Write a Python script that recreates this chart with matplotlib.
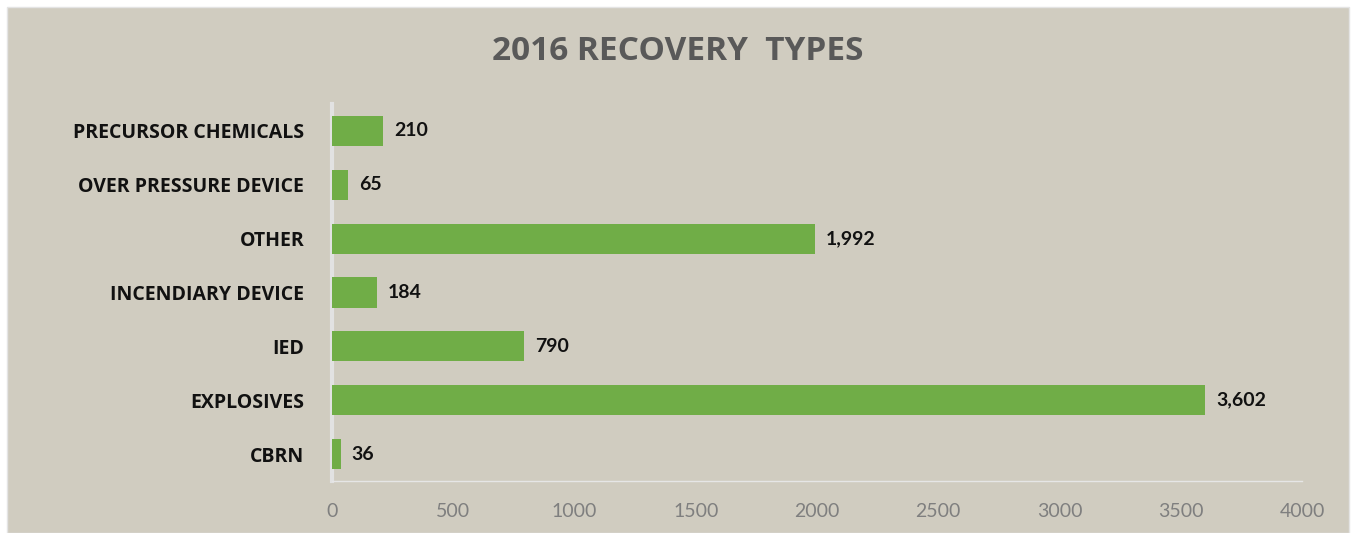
import matplotlib
matplotlib.use("Agg")
import matplotlib.pyplot as plt
from matplotlib.patches import Rectangle

categories = ["CBRN", "EXPLOSIVES", "IED", "INCENDIARY DEVICE", "OTHER",
              "OVER PRESSURE DEVICE", "PRECURSOR CHEMICALS"]
values = [36, 3602, 790, 184, 1992, 65, 210]
xticks = [0, 500, 1000, 1500, 2000, 2500, 3000, 3500, 4000]
title = "2016 RECOVERY  TYPES"

BG = "#D0CCC0"
GREEN = "#70AD47"

plt.rcParams['font.family'] = ['Lato', 'DejaVu Sans']
WIDE = ['Open Sans', 'DejaVu Sans']

fig = plt.figure(figsize=(13.51, 5.33), dpi=100)
fig.patch.set_facecolor("white")
fig.patches.append(Rectangle((7/1351, 0), (1349-7)/1351, (533-7)/533,
                             transform=fig.transFigure, facecolor=BG,
                             edgecolor="#E4E4E4", linewidth=1.0, zorder=-10))

ax = fig.add_axes([332/1351, 1-481/533, (1302-332)/1351, (481-104)/533])
ax.set_facecolor("none")

y = list(range(len(categories)))
ax.barh(y, values, height=0.56, color=GREEN, zorder=3)
ax.set_xlim(0, 4000)
ax.set_ylim(-0.5, len(categories) - 0.5)

ax.set_yticks(y)
ax.set_yticklabels(categories, fontsize=14, fontweight="bold", color="#111111",
                   family=WIDE)
ax.tick_params(axis="y", length=0, pad=20)
ax.set_xticks(xticks)
ax.set_xticklabels([str(t) for t in xticks], fontsize=14, color="#7F7F7F")
ax.tick_params(axis="x", length=0, pad=16)

for s in ["top", "right"]:
    ax.spines[s].set_visible(False)
ax.spines["left"].set_color("#E2E2E2")
ax.spines["left"].set_linewidth(3)
ax.spines["bottom"].set_color("#E6E6E6")
ax.spines["bottom"].set_linewidth(1)

for yi, v in zip(y, values):
    ax.annotate(f"{v:,}", (v, yi), xytext=(8, 0), textcoords="offset points",
                va="center", ha="left", fontsize=14, fontweight="bold",
                color="#111111")

fig.text(678/1351, 1-52/533, title, ha="center", va="center",
         fontsize=24, fontweight="bold", color="#595959", family=WIDE)

fig.savefig("out.png", dpi=100, facecolor=fig.get_facecolor())
